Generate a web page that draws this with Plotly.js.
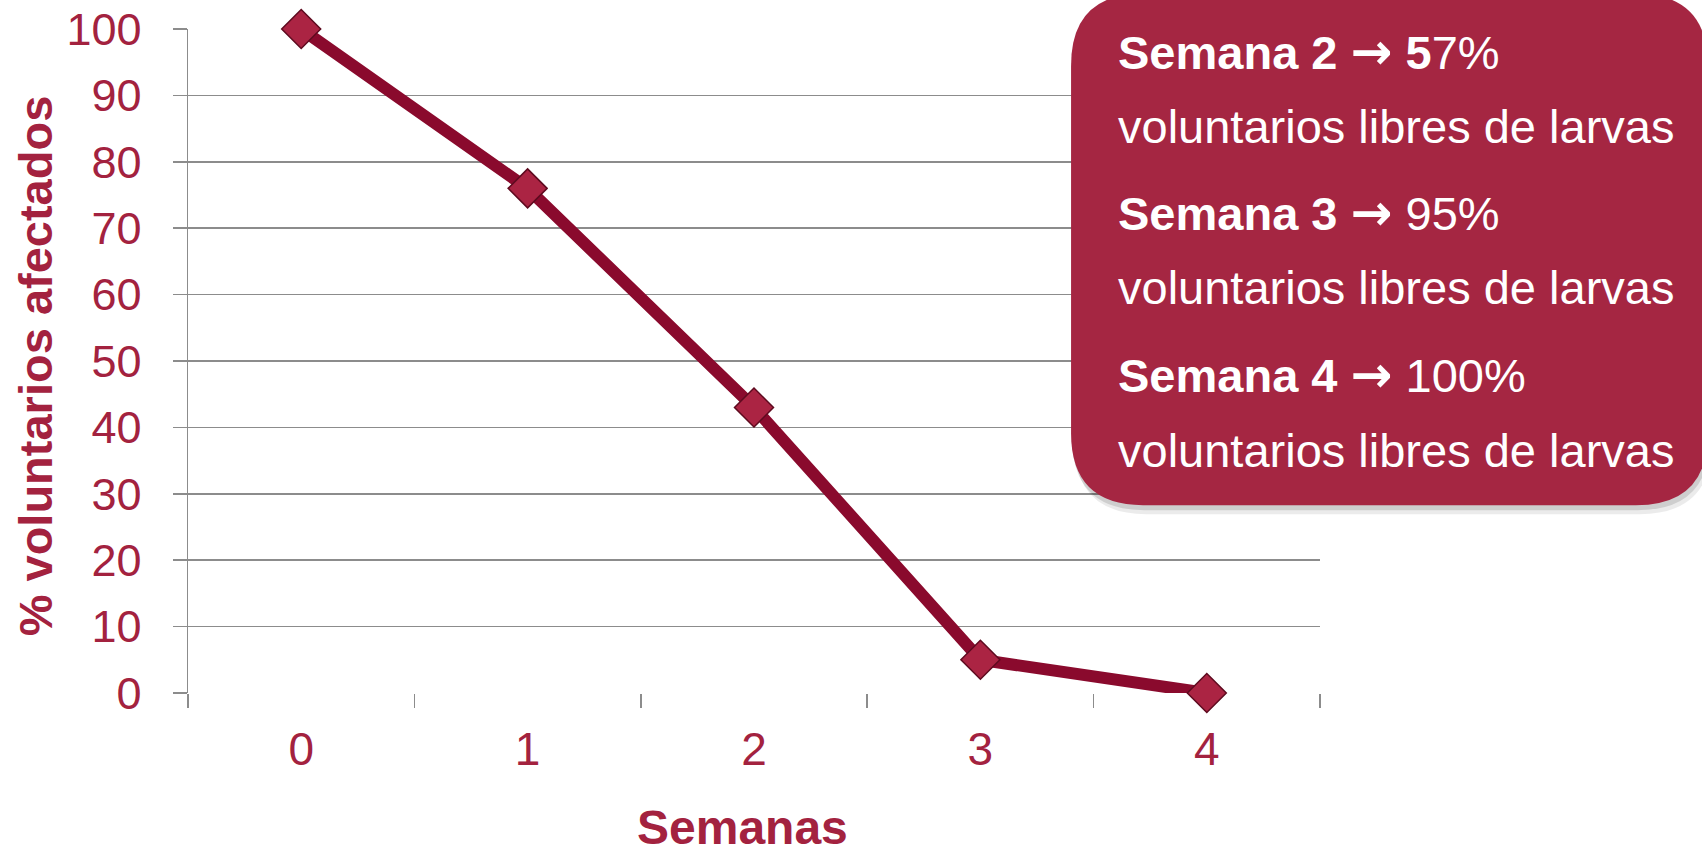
<!DOCTYPE html>
<html>
<head>
<meta charset="utf-8">
<script src="https://cdn.plot.ly/plotly-3.0.1.min.js"></script>
<style>html,body{margin:0;padding:0;background:#fff;}#chart{width:1702px;height:852px;}</style>
</head>
<body>
<div id="chart"></div>
<script>
// ---- data ----
const weeks = [0, 1, 2, 3, 4];
const affected = [100, 76, 43, 5, 0];
const yTickVals = [0, 10, 20, 30, 40, 50, 60, 70, 80, 90, 100];
const xTickLabels = ["0", "1", "2", "3", "4"];
const xTitle = "Semanas";
const yTitle = "% voluntarios afectados";
const ARROW = "<span style=\"font-family:'DejaVu Sans';font-size:50px\">\u2192</span>";
const boxLines = [
  "<b>Semana 2 " + ARROW + " 5</b>7%",
  "voluntarios libres de larvas",
  "<b>Semana 3 " + ARROW + "</b> 95%",
  "voluntarios libres de larvas",
  "<b>Semana 4 " + ARROW + "</b> 100%",
  "voluntarios libres de larvas"
];

// ---- layout geometry (pixels) ----
const W = 1702, H = 852;
const L = 187.7, R = 1320, T = 29.3, B = 692.7;
const pw = R - L, ph = B - T;
const px2x = p => (p - L) / pw;
const py2y = p => (B - p) / ph;

const FONT = "Arial, 'Liberation Sans', sans-serif";
const RED = "#a3223f";
const GRID = "#8c8c8c";

function roundRect(x0p, y0p, x1p, y1p, r) {
  const x0 = px2x(x0p), x1 = px2x(x1p), yt = py2y(y0p), yb = py2y(y1p);
  const rx = r / pw, ry = r / ph;
  return `M ${x0+rx},${yt} L ${x1-rx},${yt} Q ${x1},${yt} ${x1},${yt-ry} ` +
         `L ${x1},${yb+ry} Q ${x1},${yb} ${x1-rx},${yb} L ${x0+rx},${yb} ` +
         `Q ${x0},${yb} ${x0},${yb+ry} L ${x0},${yt-ry} Q ${x0},${yt} ${x0+rx},${yt} Z`;
}

const lineYs = [52, 127, 213, 288, 375, 450];

const annotations = boxLines.map((t, i) => ({
  text: t, xref: "paper", yref: "paper",
  x: px2x(1116), y: py2y(lineYs[i]),
  xanchor: "left", yanchor: "middle", showarrow: false,
  font: {family: FONT, size: 47, color: "#ffffff"}
}));
annotations.push({
  text: "<b>" + xTitle + "</b>", xref: "paper", yref: "paper",
  x: px2x(742), y: py2y(827), xanchor: "center", yanchor: "middle",
  showarrow: false, font: {family: FONT, size: 48, color: RED}
});
annotations.push({
  text: "<b>" + yTitle + "</b>", xref: "paper", yref: "paper",
  x: px2x(35), y: py2y(366), xanchor: "center", yanchor: "middle",
  textangle: -90, showarrow: false, font: {family: FONT, size: 47, color: RED}
});

const shapes = [
  {type: "path", xref: "paper", yref: "paper", layer: "above",
   path: roundRect(1074, 2, 1712, 514, 72), fillcolor: "rgba(0,0,0,0.08)", line: {width: 0}},
  {type: "path", xref: "paper", yref: "paper", layer: "above",
   path: roundRect(1072, -2, 1710, 510, 72), fillcolor: "rgba(0,0,0,0.12)", line: {width: 0}},
  {type: "path", xref: "paper", yref: "paper", layer: "above",
   path: roundRect(1071, -6, 1708, 505, 72), fillcolor: "#a52642", line: {width: 0}}
];

const trace = {
  x: weeks, y: affected, type: "scatter", mode: "lines+markers",
  cliponaxis: false,
  line: {color: "#8a0a2d", width: 12},
  marker: {symbol: "diamond", size: 30, color: "#ab2443",
           line: {color: "#5e0a1f", width: 1.5}},
  hoverinfo: "skip"
};

const layout = {
  width: W, height: H,
  margin: {l: L, r: W - R, t: T, b: H - B, pad: 0},
  paper_bgcolor: "#ffffff", plot_bgcolor: "#ffffff",
  showlegend: false,
  font: {family: FONT, color: RED},
  xaxis: {
    range: [-0.5, 4.5], fixedrange: true,
    tickmode: "array", tickvals: weeks, ticktext: xTickLabels,
    ticks: "outside", ticklen: 16, tickcolor: "rgba(0,0,0,0)",
    tickfont: {family: FONT, size: 46, color: RED},
    showgrid: false, zeroline: false,
    showline: false,
    minor: {tickvals: [-0.5, 0.5, 1.5, 2.5, 3.5, 4.5], ticks: "outside",
            ticklen: 14, tickwidth: 1.5, tickcolor: GRID, showgrid: false}
  },
  yaxis: {
    range: [0, 100], fixedrange: true,
    tickmode: "array", tickvals: yTickVals,
    ticks: "outside", ticklen: 14, tickwidth: 1.5, tickcolor: GRID,
    ticklabelstandoff: 22,
    tickfont: {family: FONT, size: 45, color: RED},
    showgrid: true, gridcolor: GRID, gridwidth: 1.5,
    zeroline: false,
    showline: true, linecolor: GRID, linewidth: 1.5
  },
  shapes: shapes,
  annotations: annotations
};

Plotly.newPlot("chart", [trace], layout, {staticPlot: true, displayModeBar: false});
</script>
</body>
</html>
